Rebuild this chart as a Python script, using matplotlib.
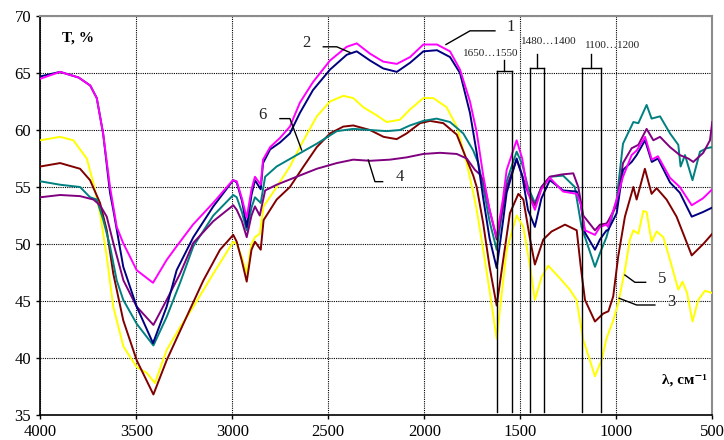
import numpy as np
import matplotlib
matplotlib.use("Agg")
import matplotlib.pyplot as plt

# ---------------- data ----------------
wn_1 = [4000, 3897, 3800, 3740, 3706, 3673, 3637, 3602, 3569, 3498, 3413, 3342, 3290, 3205, 3100, 2997, 2977, 2950, 2925, 2900, 2882, 2852, 2840, 2803, 2752, 2700, 2648, 2580, 2491, 2404, 2352, 2283, 2214, 2143, 2074, 2005, 1934, 1866, 1814, 1762, 1727, 1693, 1660, 1623, 1590, 1571, 1519, 1490, 1460, 1424, 1390, 1346, 1277, 1206, 1185, 1163, 1111, 1085, 1051, 1043, 998, 965, 920, 894, 850, 815, 783, 720, 669, 607, 549, 500]
t_1 = [64.5, 65.1, 64.6, 63.9, 62.8, 59.7, 55.0, 51.5, 50.1, 47.7, 46.6, 48.6, 49.8, 51.7, 53.6, 55.6, 55.5, 54.0, 52.3, 54.8, 55.9, 55.2, 57.4, 58.5, 59.3, 60.3, 62.4, 64.2, 66.1, 67.3, 67.6, 66.7, 66.0, 65.8, 66.4, 67.5, 67.5, 66.9, 65.3, 62.5, 59.8, 56.0, 53.0, 50.6, 54.0, 56.5, 59.1, 57.5, 54.5, 53.0, 54.8, 55.8, 54.6, 54.4, 53.5, 51.2, 50.8, 51.5, 51.7, 51.5, 53.9, 55.9, 57.8, 58.2, 59.4, 57.4, 57.7, 55.8, 55.0, 53.4, 54.0, 54.8]

wn_2 = [4000, 3897, 3800, 3740, 3706, 3673, 3637, 3620, 3568, 3498, 3413, 3342, 3290, 3203, 3099, 2995, 2977, 2950, 2925, 2900, 2882, 2852, 2840, 2803, 2752, 2700, 2648, 2580, 2491, 2404, 2352, 2283, 2214, 2143, 2074, 2005, 1934, 1866, 1814, 1762, 1727, 1693, 1660, 1623, 1590, 1571, 1519, 1490, 1460, 1424, 1390, 1346, 1277, 1206, 1185, 1163, 1111, 1085, 1051, 1043, 998, 965, 920, 894, 850, 815, 783, 720, 669, 607, 549, 500]
t_2 = [64.7, 65.1, 64.6, 63.9, 62.8, 59.7, 54.5, 53.0, 48.0, 44.5, 41.3, 44.5, 47.7, 50.6, 53.3, 55.6, 55.4, 53.8, 51.5, 54.3, 55.6, 54.8, 57.1, 58.3, 58.9, 59.7, 61.5, 63.5, 65.3, 66.6, 66.9, 66.1, 65.4, 65.1, 65.9, 66.9, 67.0, 66.4, 65.0, 61.5, 58.0, 54.0, 50.5, 47.9, 52.0, 54.5, 57.5, 56.0, 53.0, 51.5, 54.0, 55.6, 54.7, 54.6, 53.5, 51.0, 49.5, 50.4, 51.2, 51.2, 52.7, 56.5, 57.2, 57.8, 59.1, 57.2, 57.5, 55.4, 54.5, 52.4, 52.8, 53.2]

wn_3 = [4000, 3897, 3793, 3741, 3689, 3654, 3620, 3568, 3498, 3411, 3342, 3255, 3151, 3064, 2995, 2977, 2950, 2925, 2900, 2882, 2852, 2837, 2769, 2700, 2629, 2560, 2491, 2422, 2370, 2283, 2212, 2144, 2092, 2022, 1970, 1901, 1831, 1779, 1745, 1727, 1693, 1660, 1623, 1590, 1554, 1510, 1484, 1450, 1424, 1380, 1337, 1267, 1206, 1185, 1163, 1111, 1068, 1041, 1016, 990, 955, 911, 894, 851, 816, 790, 738, 686, 651, 607, 547, 500]
t_3 = [56.8, 57.1, 56.6, 55.6, 53.6, 51.2, 47.4, 43.3, 39.8, 36.8, 39.8, 43.0, 46.8, 49.5, 50.8, 50.2, 48.5, 46.7, 49.5, 50.2, 49.5, 52.1, 53.9, 55.0, 56.8, 58.5, 59.7, 60.3, 60.4, 60.0, 59.4, 59.2, 59.7, 60.6, 60.8, 60.6, 59.6, 57.4, 56.0, 55.0, 51.8, 48.0, 44.6, 48.5, 52.7, 54.4, 53.9, 50.5, 48.2, 50.4, 51.1, 51.7, 51.2, 48.0, 45.1, 43.2, 43.9, 44.1, 45.4, 48.9, 52.4, 55.0, 53.9, 56.6, 54.4, 54.9, 53.9, 52.4, 50.9, 49.0, 50.0, 50.9]

wn_4 = [4000, 3897, 3793, 3723, 3689, 3654, 3620, 3567, 3498, 3411, 3342, 3272, 3203, 3099, 2995, 2977, 2950, 2925, 2900, 2882, 2857, 2829, 2769, 2665, 2560, 2456, 2370, 2283, 2179, 2092, 2005, 1918, 1831, 1779, 1736, 1710, 1693, 1660, 1623, 1571, 1519, 1490, 1460, 1424, 1390, 1346, 1285, 1224, 1198, 1172, 1111, 1085, 1051, 1043, 998, 965, 920, 885, 842, 807, 772, 720, 669, 625, 599, 547, 512, 500]
t_4 = [54.1, 54.3, 54.2, 53.9, 53.4, 52.4, 50.1, 46.8, 44.5, 42.9, 45.1, 47.4, 50.1, 52.0, 53.4, 53.0, 52.0, 50.6, 52.5, 53.3, 52.5, 54.7, 55.2, 55.9, 56.6, 57.1, 57.4, 57.3, 57.4, 57.6, 57.9, 58.0, 57.9, 57.5, 56.5, 56.1, 55.6, 53.0, 50.4, 55.0, 57.4, 56.0, 54.5, 53.4, 55.0, 55.9, 56.1, 56.2, 55.0, 52.5, 51.2, 51.7, 51.8, 52.0, 53.4, 57.1, 58.4, 58.7, 60.1, 59.1, 59.4, 58.5, 57.8, 57.5, 57.2, 58.0, 59.1, 60.7]

wn_5 = [4000, 3897, 3828, 3758, 3723, 3689, 3654, 3620, 3567, 3498, 3446, 3403, 3342, 3272, 3203, 3099, 2995, 2977, 2950, 2925, 2900, 2882, 2857, 2837, 2769, 2700, 2629, 2560, 2491, 2422, 2370, 2318, 2249, 2196, 2127, 2075, 2005, 1953, 1884, 1831, 1779, 1745, 1727, 1693, 1658, 1623, 1571, 1519, 1484, 1449, 1424, 1389, 1354, 1294, 1242, 1207, 1172, 1111, 1077, 1051, 1016, 990, 955, 929, 911, 885, 859, 842, 816, 790, 755, 720, 677, 655, 631, 603, 573, 538, 500]
t_5 = [59.1, 59.4, 59.1, 57.5, 55.3, 52.7, 48.9, 44.5, 41.0, 39.2, 38.7, 37.8, 40.7, 42.7, 44.5, 47.4, 50.2, 50.0, 48.8, 47.4, 50.0, 50.6, 50.9, 53.3, 55.0, 56.8, 59.1, 61.2, 62.5, 63.0, 62.8, 62.0, 61.3, 60.7, 60.9, 61.8, 62.8, 62.8, 62.0, 60.3, 57.1, 54.5, 53.0, 49.5, 45.7, 41.7, 49.5, 52.5, 51.5, 48.0, 45.1, 47.1, 48.1, 47.0, 46.0, 45.1, 41.6, 38.4, 39.8, 41.7, 43.3, 44.8, 47.7, 50.4, 51.2, 50.9, 52.9, 52.8, 50.2, 51.1, 50.6, 48.6, 46.0, 46.7, 45.7, 43.2, 45.1, 45.9, 45.7]

wn_6 = [4000, 3897, 3793, 3741, 3706, 3672, 3637, 3602, 3568, 3498, 3411, 3342, 3272, 3203, 3099, 2995, 2977, 2950, 2925, 2900, 2882, 2852, 2829, 2769, 2665, 2560, 2456, 2370, 2283, 2196, 2127, 2075, 2005, 1936, 1866, 1797, 1745, 1719, 1693, 1660, 1623, 1571, 1519, 1490, 1460, 1424, 1390, 1346, 1277, 1216, 1181, 1111, 1085, 1051, 998, 965, 911, 885, 842, 816, 772, 720, 677, 665, 642, 603, 564, 530, 500]
t_6 = [55.5, 55.2, 55.0, 54.1, 53.9, 52.1, 49.8, 46.8, 45.1, 43.0, 41.1, 43.6, 46.6, 49.8, 52.5, 54.3, 54.1, 52.8, 51.2, 53.2, 54.1, 53.6, 55.9, 56.8, 57.8, 58.8, 59.9, 60.1, 60.0, 59.9, 60.0, 60.4, 60.8, 61.0, 60.7, 59.7, 58.2, 57.1, 55.0, 52.0, 49.5, 55.5, 58.1, 57.0, 55.0, 53.6, 55.0, 55.9, 56.0, 55.0, 51.5, 48.0, 49.2, 50.6, 53.9, 58.8, 60.7, 60.6, 62.2, 61.0, 61.2, 59.7, 58.7, 56.8, 57.8, 55.6, 58.1, 58.4, 58.5]

x_ticks = [4000, 3500, 3000, 2500, 2000, 1500, 1000, 500]
y_ticks = [35, 40, 45, 50, 55, 60, 65, 70]

# band brackets: (left wn, right wn, label)
bands = [(1623, 1542, "1650…1550"), (1448, 1378, "1480…1400"), (1180, 1080, "1100…1200")]

# ---------------- figure ----------------
plt.rcParams['font.family'] = ['Liberation Serif', 'DejaVu Serif']
fig = plt.figure(figsize=(7.24, 4.40), dpi=100)
ax = fig.add_axes([0.0557, 0.0568, 0.9281, 0.9068])

ax.set_xlim(4000, 500)
ax.set_ylim(35, 70)
ax.set_xticks(x_ticks)
ax.set_yticks(y_ticks)
ax.tick_params(labelsize=12, direction='out', length=3, width=1)
ax.grid(True, color='black', linestyle=(0, (1, 1)), linewidth=0.8)
for s in ['left', 'bottom']:
    ax.spines[s].set_color('black')
    ax.spines[s].set_linewidth(1.2)
for s in ['top', 'right']:
    ax.spines[s].set_color('#8c8c8c')
    ax.spines[s].set_linewidth(1.5)

lw = 1.4
ax.plot(wn_5, t_5, color='#FFFF00', lw=lw, zorder=3)
ax.plot(wn_3, t_3, color='#800000', lw=lw, zorder=3)
ax.plot(wn_6, t_6, color='#008080', lw=lw, zorder=3)
ax.plot(wn_4, t_4, color='#800080', lw=lw, zorder=3)
ax.plot(wn_2, t_2, color='#000080', lw=lw, zorder=3)
ax.plot(wn_1, t_1, color='#FF00FF', lw=lw, zorder=3)

# band markers
tops = [65.2, 65.4, 65.4]
ticks_up = [66.1, 66.7, 66.7]
label_pos = [(1654, 66.75), (1351, 67.8), (1017, 67.4)]
for (a, b, lab), top, up, (lx, ly) in zip(bands, tops, ticks_up, label_pos):
    ax.plot([a, a], [35.3, top], color='black', lw=1.0, zorder=4)
    ax.plot([b, b], [35.3, top], color='black', lw=1.0, zorder=4)
    ax.plot([a, b], [top, top], color='black', lw=1.0, zorder=4)
    c = (a + b) / 2
    ax.plot([c, c], [top, up], color='black', lw=1.0, zorder=4)
    ax.text(lx, ly, lab, fontsize=8, ha='center', va='center', color='#222222', zorder=5)

# curve labels with leader lines
leaders = {
    "1": ([1632, 1762, 1887], [68.7, 68.7, 67.5], (1549, 69.05)),
    "2": ([2526, 2456, 2387], [67.3, 67.3, 66.8], (2615, 67.6)),
    "6": ([2752, 2700, 2639], [61.0, 61.0, 58.25], (2844, 61.3)),
    "4": ([2292, 2257, 2217], [57.37, 55.47, 55.47], (2130, 55.85)),
    "5": ([955, 903, 847], [47.28, 46.64, 46.64], (763, 46.9)),
    "3": ([985, 894, 799], [45.24, 44.65, 44.65], (711, 44.9)),
}
for lab, (xs, ys, (tx, ty)) in leaders.items():
    ax.plot(xs, ys, color='black', lw=1.0, zorder=4)
    ax.text(tx, ty, lab, fontsize=12, ha='center', va='center', color='#222222', zorder=5)

ax.text(3887, 68.1, "T, %", fontsize=11, fontweight='bold', ha='left', va='center')
ax.text(527, 38.1, "λ, см⁻¹", fontsize=11, fontweight='bold', ha='right', va='center')

fig.savefig("out.png", dpi=100)
